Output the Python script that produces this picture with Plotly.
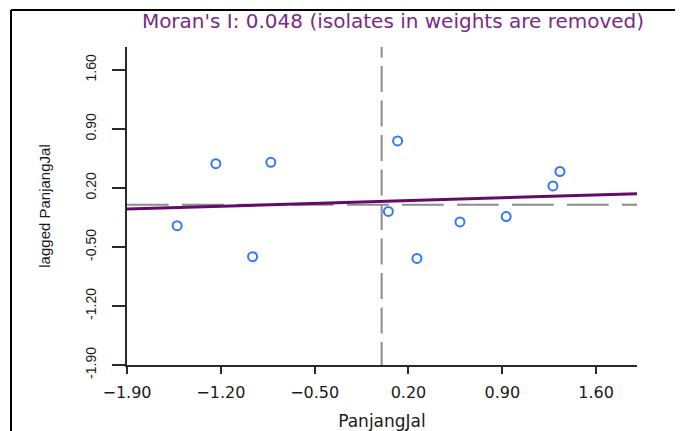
import numpy as np
import plotly.graph_objects as go

# ---- data ----
panjang_jal = [-1.526, -1.237, -0.963, -0.827, 0.050, 0.119, 0.263, 0.584, 0.929, 1.278, 1.330]
lagged_panjang_jal = [-0.247, 0.489, -0.615, 0.505, -0.078, 0.758, -0.636, -0.203, -0.139, 0.224, 0.396]
moran_i = 0.048

x_tick_vals = [-1.90, -1.20, -0.50, 0.20, 0.90, 1.60]
x_tick_text = ["\u22121.90", "\u22121.20", "\u22120.50", "0.20", "0.90", "1.60"]
y_tick_vals = [-1.90, -1.20, -0.50, 0.20, 0.90, 1.60]
y_tick_text = ["-1.90", "-1.20", "-0.50", "0.20", "0.90", "1.60"]
x_range = [-1.90, 1.905]
y_range = [-1.90, 1.873]

title_text = "Moran's I: 0.048 (isolates in weights are removed)"
x_title = "PanjangJal"
y_title = "lagged PanjangJal"

# ---- styles ----
PAGE = 8                       # default body margin of the html page
W, H = 683 - PAGE, 431 - PAGE
ML, MR, MT, MB = 119, 46, 39, 66
plot_w = W - ML - MR
plot_h = H - MT - MB

point_color = "#3377ff"
line_color = "#660a6a"
title_color = "#7a2a88"
ref_color = "#8c8c8c"
axis_color = "#2a2a2a"
text_color = "#1a1a1a"

x_arr = np.array(panjang_jal)
y_arr = np.array(lagged_panjang_jal)
intercept = y_arr.mean() - moran_i * x_arr.mean()
line_x = np.array(x_range)
line_y = intercept + moran_i * line_x

fig = go.Figure()

fig.add_trace(go.Scatter(
    x=line_x, y=line_y, mode="lines",
    line=dict(color=line_color, width=3),
    hoverinfo="skip", showlegend=False,
))

fig.add_trace(go.Scatter(
    x=panjang_jal, y=lagged_panjang_jal, mode="markers",
    marker=dict(symbol="circle-open", size=9, color=point_color,
                line=dict(color=point_color, width=2)),
    showlegend=False,
))

# dashed reference lines at zero (phase offset so dashes line up like the original)
y_per_px = (y_range[1] - y_range[0]) / plot_h
fig.add_shape(type="line", xref="x", yref="y",
              x0=0, x1=0, y0=y_range[1] + 15.5 * y_per_px, y1=y_range[0],
              line=dict(color=ref_color, width=2, dash="26px,8.5px"), layer="below")
fig.add_shape(type="line", xref="x", yref="y",
              x0=x_range[0], x1=x_range[1], y0=0, y1=0,
              line=dict(color=ref_color, width=2, dash="41.7px,13.3px"), layer="below")

# outer frame (left and top borders of the page figure)
fx = (3 - ML) / plot_w
fy = (H - MB - 2) / plot_h
fig.add_shape(type="line", xref="paper", yref="paper",
              x0=fx, x1=fx, y0=fy, y1=-(MB + 5) / plot_h,
              line=dict(color="black", width=2))
fig.add_shape(type="line", xref="paper", yref="paper",
              x0=fx, x1=(W - ML + 5) / plot_w, y0=fy, y1=fy,
              line=dict(color="black", width=2))

fig.update_layout(
    width=W, height=H, autosize=False,
    margin=dict(l=ML, r=MR, t=MT, b=MB, pad=0),
    paper_bgcolor="white", plot_bgcolor="white",
    title=dict(text=title_text, x=(385 - ML) / plot_w, xref="paper", xanchor="center",
               y=1 - 13 / H, yref="container", yanchor="middle",
               font=dict(family="DejaVu Sans", size=20, color=title_color)),
    xaxis=dict(range=x_range, tickvals=x_tick_vals, ticktext=x_tick_text,
               automargin=False,
               showgrid=False, zeroline=False, showline=True, linecolor=axis_color,
               linewidth=1.6, ticks="outside", ticklen=7, tickwidth=1.6, tickcolor=axis_color,
               ticklabelstandoff=5,
               tickfont=dict(family="DejaVu Sans", size=16, color=text_color),
               title=dict(text=x_title, standoff=16,
                          font=dict(family="DejaVu Sans", size=17, color=text_color))),
    yaxis=dict(range=y_range, tickvals=y_tick_vals, ticktext=y_tick_text,
               automargin=False,
               showgrid=False, zeroline=False, showline=True, linecolor=axis_color,
               linewidth=1.6, ticks="outside", ticklen=13, tickwidth=1.6, tickcolor=axis_color,
               tickangle=-90, ticklabelstandoff=11,
               tickfont=dict(family="Liberation Sans", size=14, color=text_color),
               title=dict(text=y_title, standoff=28,
                          font=dict(family="Liberation Sans", size=15, color=text_color))),
)

fig.write_html("out.html")
